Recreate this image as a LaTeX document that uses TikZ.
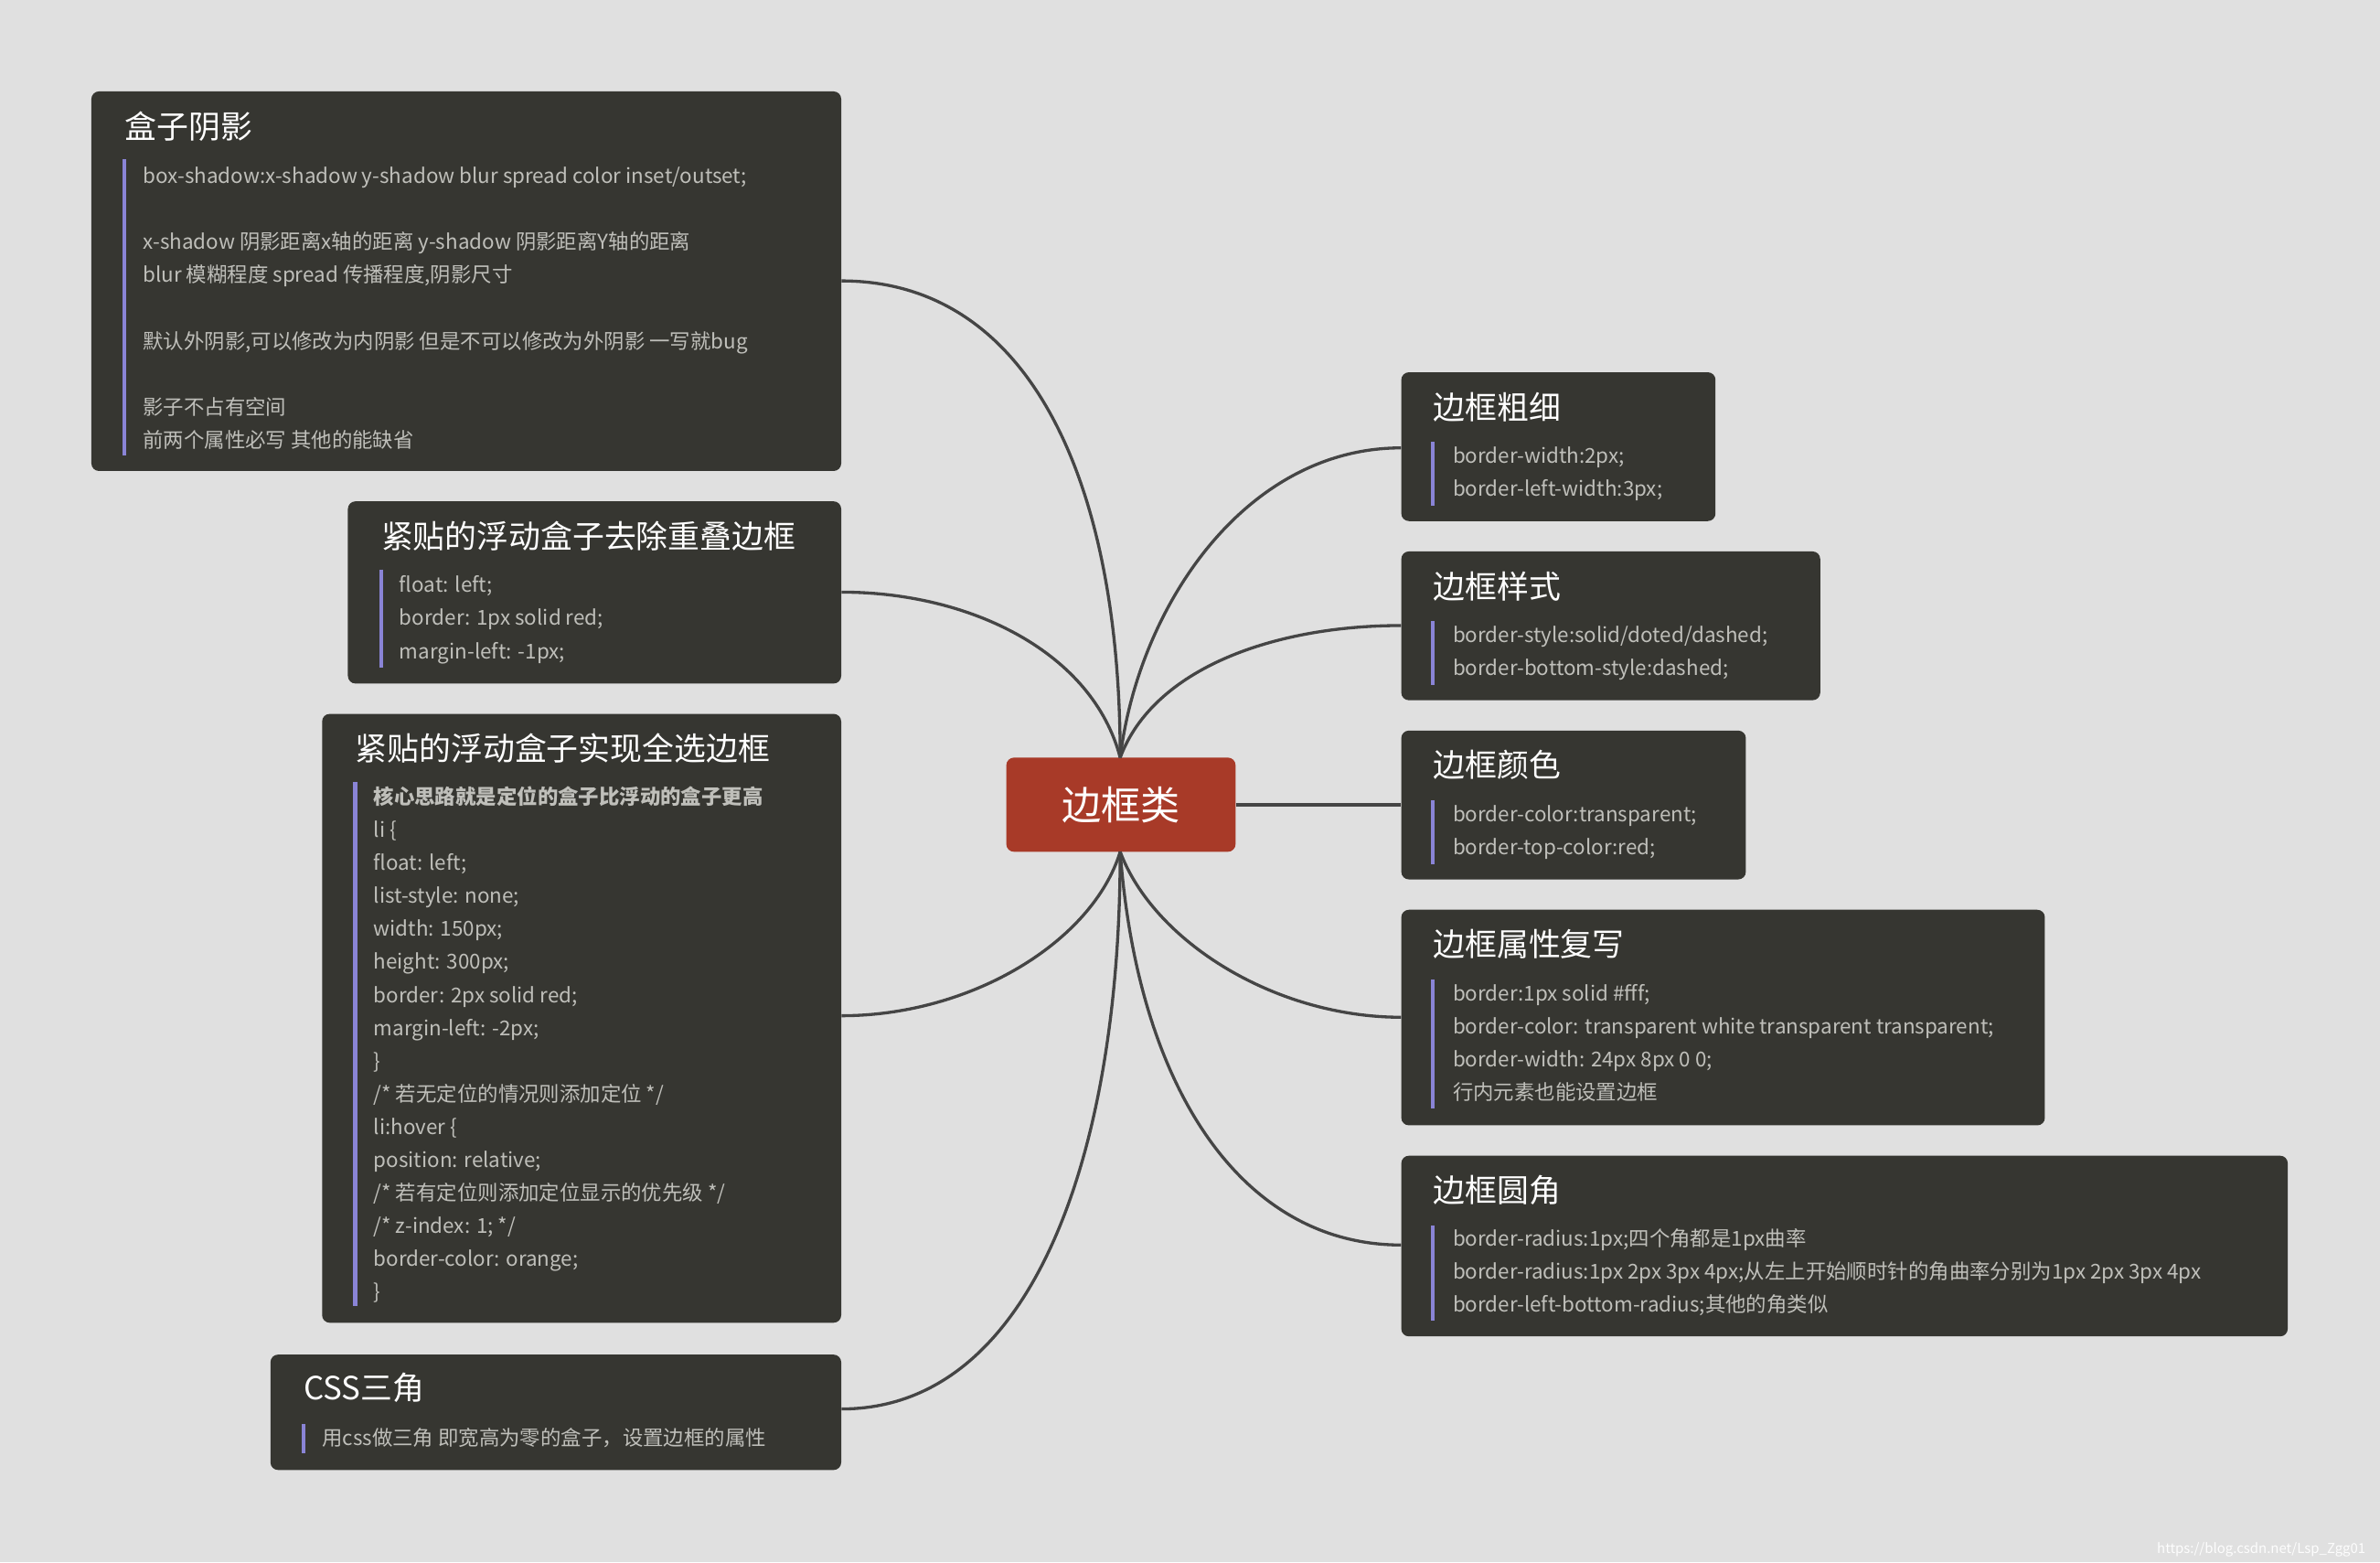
\documentclass[tikz,border=0pt]{standalone}
\usepackage{fontspec}
\setmainfont{Noto Sans CJK SC}
\definecolor{bg}{HTML}{E0E0E0}
\definecolor{boxc}{HTML}{363631}
\definecolor{bodyc}{HTML}{BFBFBA}
\definecolor{barc}{HTML}{8A84D6}
\definecolor{linec}{HTML}{454545}
\definecolor{redc}{HTML}{A83A28}
\tikzset{
 mbox/.style={fill=boxc,rounded corners=5pt,anchor=north west,inner sep=0pt},
 ttl/.style={anchor=base west,text=white,font=\fontsize{21}{21}\selectfont,inner sep=0pt},
 ln/.style={anchor=base west,text=bodyc,font=\fontsize{13.5}{14}\selectfont,inner sep=0pt},
 bar/.style={barc,line width=2.5pt},
 conn/.style={linec,line width=2pt},
}
\newcommand{\mb}[5]{\node[mbox,minimum width=#4-#2,minimum height=#5-#3] (#1) at (#2,-#3) {};}
\begin{document}
\begin{tikzpicture}[x=1pt,y=1pt]
\fill[bg] (0,0) rectangle (1568,-1029);
\useasboundingbox (0,0) rectangle (1568,-1029);
% center
\node[fill=redc,rounded corners=5pt,minimum width=151pt,minimum height=62pt,text=white,font=\fontsize{26}{26}\selectfont] (c) at (738.5,-530) {边框类};
% left boxes
\mb{a}{60}{60}{554}{310}
\node[ttl] (at) at (82,-91) {盒子阴影};
\draw[bar] (82,-105) -- (82,-300);
\foreach \t [count=\i from 0] in {{box-shadow:x-shadow y-shadow blur spread color inset/outset;},{},{x-shadow 阴影距离x轴的距离 y-shadow 阴影距离Y轴的距离},{blur 模糊程度 spread 传播程度,阴影尺寸},{},{默认外阴影,可以修改为内阴影 但是不可以修改为外阴影 一写就bug},{},{影子不占有空间},{前两个属性必写 其他的能缺省}}
 \node[ln] (al\i) at (94,-121-21.7*\i) {\t};
\mb{b}{229}{330}{554}{450}
\node[ttl] (bt) at (251,-361) {紧贴的浮动盒子去除重叠边框};
\draw[bar] (251,-375) -- (251,-440);
\foreach \t [count=\i from 0] in {{float: left;},{border: 1px solid red;},{margin-left: -1px;}}
 \node[ln] (bl\i) at (263,-390-22*\i) {\t};
\mb{d}{212}{470}{554}{871}
\node[ttl] (dt) at (234,-501) {紧贴的浮动盒子实现全选边框};
\draw[bar] (234,-515) -- (234,-860);
\node[ln,font=\fontsize{13.5}{14}\selectfont\bfseries] (d0) at (246,-530) {核心思路就是定位的盒子比浮动的盒子更高};
\foreach \t [count=\i] in {{li \{},{float: left;},{list-style: none;},{width: 150px;},{height: 300px;},{border: 2px solid red;},{margin-left: -2px;},{\}},{/* 若无定位的情况则添加定位 */},{li:hover \{},{position: relative;},{/* 若有定位则添加定位显示的优先级 */},{/* z-index: 1; */},{border-color: orange;},{\}}}
 \node[ln] (dl\i) at (246,-530-21.7*\i) {\t};
\mb{e}{178}{892}{554}{968}
\node[ttl] (et) at (200,-922) {CSS三角};
\draw[bar] (200,-938) -- (200,-957);
\node[ln] (el) at (212,-952) {用css做三角 即宽高为零的盒子，设置边框的属性};
% right boxes
\mb{f}{923}{245}{1130}{343}
\node[ttl] (ft) at (944,-276) {边框粗细};
\draw[bar] (944,-291) -- (944,-333);
\node[ln] (f0) at (957,-305) {border-width:2px;};
\node[ln] (f1) at (957,-327) {border-left-width:3px;};
\mb{g}{923}{363}{1199}{461}
\node[ttl] (gt) at (944,-394) {边框样式};
\draw[bar] (944,-409) -- (944,-451);
\node[ln] (g0) at (957,-423) {border-style:solid/doted/dashed;};
\node[ln] (g1) at (957,-445) {border-bottom-style:dashed;};
\mb{h}{923}{481}{1150}{579}
\node[ttl] (ht) at (944,-512) {边框颜色};
\draw[bar] (944,-527) -- (944,-569);
\node[ln] (h0) at (957,-541) {border-color:transparent;};
\node[ln] (h1) at (957,-563) {border-top-color:red;};
\mb{i}{923}{599}{1347}{741}
\node[ttl] (it) at (944,-630) {边框属性复写};
\draw[bar] (944,-645) -- (944,-730);
\foreach \t [count=\k from 0] in {{border:1px solid \#fff;},{border-color: transparent white transparent transparent;},{border-width: 24px 8px 0 0;},{行内元素也能设置边框}}
 \node[ln] (il\k) at (957,-659-21.7*\k) {\t};
\mb{j}{923}{761}{1507}{880}
\node[ttl] (jt) at (944,-792) {边框圆角};
\draw[bar] (944,-807) -- (944,-870);
\foreach \t [count=\k from 0] in {{border-radius:1px;四个角都是1px曲率},{border-radius:1px 2px 3px 4px;从左上开始顺时针的角曲率分别为1px 2px 3px 4px},{border-left-bottom-radius;其他的角类似}}
 \node[ln] (jl\k) at (957,-821-21.7*\k) {\t};
% connectors
\coordinate (ct) at (738,-499);
\coordinate (cb) at (738,-561);
\draw[conn] (ct) .. controls (738,-320) and (680,-185) .. (a.east |- 0,-185);
\draw[conn] (ct) .. controls (720,-430) and (640,-390) .. (b.east |- 0,-390);
\draw[conn] (cb) .. controls (720,-620) and (640,-669) .. (d.east |- 0,-669);
\draw[conn] (cb) .. controls (738,-760) and (680,-928) .. (e.east |- 0,-928);
\draw[conn] (ct) .. controls (750,-400) and (820,-295) .. (f.west |- 0,-295);
\draw[conn] (ct) .. controls (760,-440) and (840,-412) .. (g.west |- 0,-412);
\draw[conn] (c.east) -- (h.west |- c.east);
\draw[conn] (cb) .. controls (760,-620) and (840,-670) .. (i.west |- 0,-670);
\draw[conn] (cb) .. controls (750,-720) and (820,-820) .. (j.west |- 0,-820);
\node[anchor=base east,text=white!95!bg,font=\fontsize{9}{9}\selectfont] (wm) at (1562,-1023) {https://blog.csdn.net/Lsp\_Zgg01};
\end{tikzpicture}
\end{document}
